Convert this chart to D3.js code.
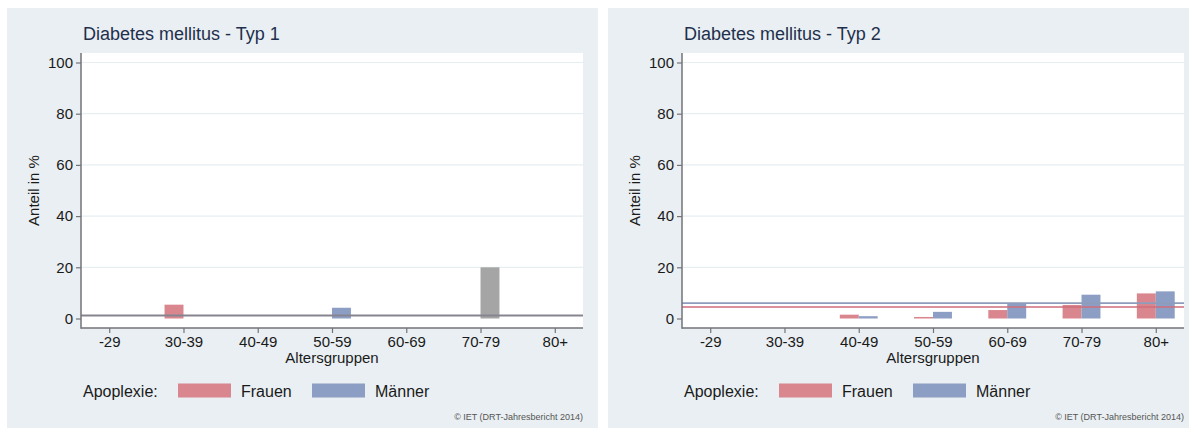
<!DOCTYPE html>
<html>
<head>
<meta charset="utf-8">
<script src="https://cdn.jsdelivr.net/npm/d3@7"></script>
<style>
  html, body { margin: 0; padding: 0; background: #ffffff; }
  svg { display: block; font-family: "Liberation Sans", Arial, sans-serif; }
</style>
</head>
<body>
<svg id="chart" width="1189" height="430"></svg>
<script>
// ---------- data ----------
const categories = ["-29", "30-39", "40-49", "50-59", "60-69", "70-79", "80+"];
const yTicks = [0, 20, 40, 60, 80, 100];

const titles = ["Diabetes mellitus - Typ 1", "Diabetes mellitus - Typ 2"];

// Typ 1 (null = no bar)
const frauenTyp1 = [null, 5.4, null, null, null, null, null];
const maennerTyp1 = [null, null, null, 4.2, null, 20, null];
const maennerTyp1Grey = [false, false, false, false, false, true, false];
const refTyp1 = [{ key: "gesamt", value: 1.2 }];

// Typ 2
const frauenTyp2 = [null, null, 1.5, 0.6, 3.3, 5.3, 9.8];
const maennerTyp2 = [null, null, 0.9, 2.6, 6.0, 9.3, 10.6];
const maennerTyp2Grey = [false, false, false, false, false, false, false];
const refTyp2 = [{ key: "Männer", value: 6.0 }, { key: "Frauen", value: 4.5 }];

const legendTitle = "Apoplexie:";
const legendLabels = ["Frauen", "Männer"];
const xTitle = "Altersgruppen";
const yTitle = "Anteil in %";
const credit = "\u00A9 IET (DRT-Jahresbericht 2014)";

// ---------- styles ----------
const C = {
  panel: "#e9eff2",
  grid: "#e7eef1",
  axis: "#737378",
  text: "#1a1a1a",
  title: "#1f2f4d",
  frauen: "#d9868f",
  maenner: "#8d9ec4",
  grey: "#a5a5a5",
  refFrauen: "#cf6d7b",
  refMaenner: "#8e9cbc",
  refGesamt: "#86858f"
};

const svg = d3.select("#chart");

function drawPanel(offsetX, title, frauen, maenner, greyFlags, refs) {
  const g = svg.append("g").attr("transform", `translate(${offsetX},0)`);

  // panel background
  g.append("rect").attr("x", 7).attr("y", 8).attr("width", 591).attr("height", 420)
    .attr("fill", C.panel);

  const left = 81, right = 583, top = 53, bottom = 328;

  // plot region
  g.append("rect").attr("x", left).attr("y", top).attr("width", right - left)
    .attr("height", bottom - top).attr("fill", "#ffffff");

  const x = d3.scalePoint().domain(categories).range([left, right]).padding(0.38);
  const y = d3.scaleLinear().domain([0, 100]).range([318.5, 62.5]);
  const bw = x.step() * 0.255;

  // gridlines
  g.append("g").selectAll("line").data(yTicks.filter(d => d > 0)).join("line")
    .attr("x1", left).attr("x2", right)
    .attr("y1", d => y(d)).attr("y2", d => y(d))
    .attr("stroke", C.grid).attr("stroke-width", 1.2);

  // bars
  const rows = categories.map((c, i) => ({ c, f: frauen[i], m: maenner[i], grey: greyFlags[i] }));
  g.append("g").selectAll("rect").data(rows.filter(d => d.f != null)).join("rect")
    .attr("x", d => x(d.c) - bw).attr("width", bw)
    .attr("y", d => y(d.f)).attr("height", d => y(0) - y(d.f))
    .attr("fill", C.frauen);
  g.append("g").selectAll("rect").data(rows.filter(d => d.m != null)).join("rect")
    .attr("x", d => x(d.c)).attr("width", bw)
    .attr("y", d => y(d.m)).attr("height", d => y(0) - y(d.m))
    .attr("fill", d => d.grey ? C.grey : C.maenner);

  // reference lines
  const refColor = k => k === "Frauen" ? C.refFrauen : (k === "Männer" ? C.refMaenner : C.refGesamt);
  g.append("g").selectAll("line").data(refs).join("line")
    .attr("x1", left).attr("x2", right)
    .attr("y1", d => y(d.value)).attr("y2", d => y(d.value))
    .attr("stroke", d => refColor(d.key))
    .attr("stroke-width", d => d.key === "gesamt" ? 2 : 1.6);

  // y axis
  const yAxis = g.append("g").attr("transform", `translate(${left},0)`)
    .call(d3.axisLeft(y).tickValues(yTicks).tickSize(5).tickPadding(3));
  yAxis.select(".domain").remove();
  yAxis.selectAll(".tick line").attr("stroke", C.axis).attr("stroke-width", 1.2);
  yAxis.selectAll(".tick text").attr("fill", C.text).style("font-size", "15px")
    .style("font-family", "'Liberation Sans', Arial, sans-serif");
  g.append("line").attr("x1", left).attr("x2", left).attr("y1", top).attr("y2", bottom + 0.7)
    .attr("stroke", C.axis).attr("stroke-width", 1.5);

  // x axis
  const xAxis = g.append("g").attr("transform", `translate(0,${bottom})`)
    .call(d3.axisBottom(x).tickSize(5).tickPadding(3));
  xAxis.select(".domain").remove();
  xAxis.selectAll(".tick line").attr("stroke", C.axis).attr("stroke-width", 1.2);
  xAxis.selectAll(".tick text").attr("fill", C.text).style("font-size", "15px")
    .style("font-family", "'Liberation Sans', Arial, sans-serif");
  g.append("line").attr("x1", left).attr("x2", right).attr("y1", bottom).attr("y2", bottom)
    .attr("stroke", C.axis).attr("stroke-width", 1.5);

  // titles
  g.append("text").attr("x", 83).attr("y", 40).text(title)
    .attr("fill", C.title).style("font-size", "18px");
  g.append("text").attr("x", (left + right) / 2).attr("y", 363).attr("text-anchor", "middle")
    .text(xTitle).attr("fill", C.text).style("font-size", "15px");
  g.append("text").attr("transform", `translate(39,${(top + bottom) / 2}) rotate(-90)`)
    .attr("text-anchor", "middle").text(yTitle).attr("fill", C.text).style("font-size", "15px");

  // legend
  g.append("text").attr("x", 83).attr("y", 397).text(legendTitle)
    .attr("fill", C.text).style("font-size", "16px");
  const legColors = [C.frauen, C.maenner];
  const legX = [178, 312];
  legendLabels.forEach((lab, i) => {
    g.append("rect").attr("x", legX[i]).attr("y", 383.5).attr("width", 53).attr("height", 14)
      .attr("fill", legColors[i]);
    g.append("text").attr("x", legX[i] + 63).attr("y", 397).text(lab)
      .attr("fill", C.text).style("font-size", "16px");
  });

  // credit
  g.append("text").attr("x", right).attr("y", 420).attr("text-anchor", "end")
    .text(credit).attr("fill", "#555555").style("font-size", "9px");
}

drawPanel(0, titles[0], frauenTyp1, maennerTyp1, maennerTyp1Grey, refTyp1);
drawPanel(601, titles[1], frauenTyp2, maennerTyp2, maennerTyp2Grey, refTyp2);
</script>
</body>
</html>
